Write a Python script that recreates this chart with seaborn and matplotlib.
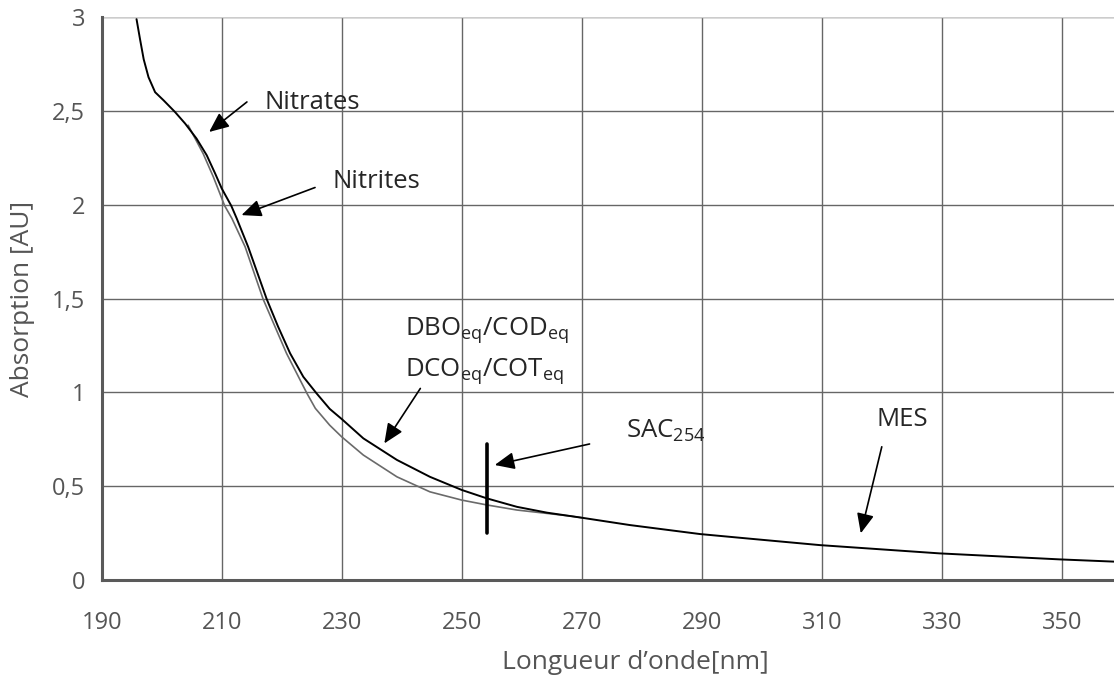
import seaborn as sns
import matplotlib.pyplot as plt
import pandas as pd

# courbe totale (noire)
wl_total = [195.8, 196.4, 197.0, 197.8, 198.9, 200.3, 202.2, 203.9, 205.8, 207.5,
            208.9, 210.0, 211.6, 212.5, 214.4, 217.5, 219.4, 221.4, 223.6, 225.8,
            228.0, 230.0, 233.6, 239.2, 244.7, 250.0, 254.2, 259.2, 264.2, 270.0,
            278.0, 289.7, 298.1, 309.7, 329.6, 349.6, 358.7]
abs_total = [2.99, 2.88, 2.775, 2.68, 2.60, 2.557, 2.495, 2.433, 2.353, 2.264,
             2.167, 2.087, 1.994, 1.927, 1.776, 1.497, 1.35, 1.208, 1.083, 0.995,
             0.912, 0.858, 0.755, 0.64, 0.55, 0.48, 0.435, 0.39, 0.359, 0.332,
             0.293, 0.245, 0.22, 0.186, 0.142, 0.110, 0.098]

# courbe grise
wl_gray = [204.4, 206.9, 208.6, 210.5, 211.7, 213.9, 216.9, 220.8, 224.2, 225.6,
           228.0, 230.0, 233.6, 239.2, 244.7, 250.0, 254.2, 259.2, 264.2, 268.1,
           270.0]
abs_gray = [2.424, 2.273, 2.149, 1.994, 1.927, 1.776, 1.497, 1.208, 0.995, 0.915,
            0.825, 0.763, 0.666, 0.55, 0.47, 0.426, 0.40, 0.373, 0.355, 0.341,
            0.332]

x_ticks = [190, 210, 230, 250, 270, 290, 310, 330, 350]
y_ticks = [0, 0.5, 1, 1.5, 2, 2.5, 3]
y_labels = ["0", "0,5", "1", "1,5", "2", "2,5", "3"]

sac_wl = 254.2
sac_range = [0.25, 0.725]

sns.set_style("white")
plt.rcParams["font.family"] = ["Open Sans", "DejaVu Sans"]

fig = plt.figure(figsize=(11.14, 6.86), dpi=100)
ax = fig.add_axes([0.0913, 0.1545, 0.9087, 0.8205])

df_t = pd.DataFrame({"wl": wl_total, "a": abs_total})
df_g = pd.DataFrame({"wl": wl_gray, "a": abs_gray})
sns.lineplot(data=df_g, x="wl", y="a", ax=ax, color="#6a6a6a", lw=1.2, sort=False)
sns.lineplot(data=df_t, x="wl", y="a", ax=ax, color="black", lw=1.4, sort=False)

ax.plot([sac_wl, sac_wl], sac_range, color="black", lw=2.6)

ax.set_xlim(190, 358.7)
ax.set_ylim(0, 3)
ax.set_xticks(x_ticks)
ax.set_yticks(y_ticks)
ax.set_yticklabels(y_labels)
ax.grid(True, color="#666666", lw=1.0)
ax.set_axisbelow(True)
ax.axhline(3, color="#cccccc", lw=1.0)

for s in ["top", "right"]:
    ax.spines[s].set_visible(False)
for s in ["left", "bottom"]:
    ax.spines[s].set_color("#5a5a5a")
    ax.spines[s].set_linewidth(2.2)
ax.tick_params(axis="both", colors="#5a5a5a", labelcolor="#555555", labelsize=17,
               length=6, width=2, direction="out")
ax.tick_params(axis="x", pad=16)
ax.tick_params(axis="y", pad=6)

ax.set_xlabel("Longueur d’onde[nm]", fontsize=19, color="#555555")
ax.set_ylabel("Absorption [AU]", fontsize=19, color="#555555")
ax.xaxis.set_label_coords(0.527, -0.125)
ax.yaxis.set_label_coords(-0.066, 0.5)

fs = 18.5
arrow = dict(arrowstyle="-|>,head_length=0.8,head_width=0.35", color="black",
             lw=1.2, shrinkA=0, shrinkB=0, mutation_scale=15)

ax.text(217.2, 2.513, "Nitrates", fontsize=fs, va="baseline")
ax.annotate("", xy=(207.9, 2.388), xytext=(214.2, 2.548), arrowprops=arrow)

ax.text(228.4, 2.087, "Nitrites", fontsize=fs, va="baseline")
ax.annotate("", xy=(213.3, 1.945), xytext=(225.55, 2.092), arrowprops=arrow)

ax.text(240.6, 1.305, "DBO$_\\mathregular{eq}$/COD$_\\mathregular{eq}$", fontsize=fs, va="baseline")
ax.text(240.6, 1.083, "DCO$_\\mathregular{eq}$/COT$_\\mathregular{eq}$", fontsize=fs, va="baseline")
ax.annotate("", xy=(237.1, 0.728), xytext=(243.1, 1.021), arrowprops=arrow)

ax.text(277.4, 0.76, "SAC$_\\mathregular{254}$", fontsize=fs, va="baseline")
ax.annotate("", xy=(255.5, 0.613), xytext=(271.3, 0.725), arrowprops=arrow)

ax.text(319.2, 0.82, "MES", fontsize=fs, va="baseline")
ax.annotate("", xy=(316.5, 0.249), xytext=(320.0, 0.71), arrowprops=arrow)

fig.savefig("out.png", dpi=100)
